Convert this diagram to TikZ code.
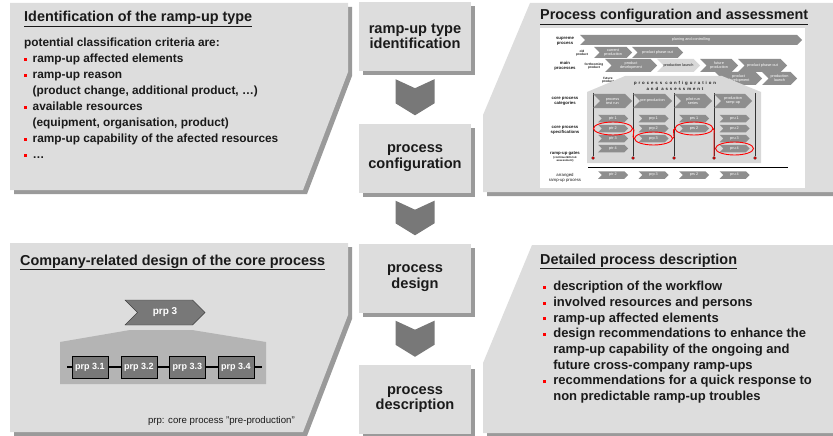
\documentclass[tikz,border=0pt]{standalone}
\usepackage{fontspec}
\setmainfont{Liberation Sans}
\usepackage{xcolor}
\usetikzlibrary{shapes.symbols,shadows,calc}
\definecolor{panelgray}{HTML}{DDDDDD}
\definecolor{shadowgray}{HTML}{9A9A9A}
\definecolor{chevgray}{HTML}{787878}
\definecolor{housegray}{HTML}{B4B4B4}
\definecolor{sketchgray}{HTML}{8E8E8E}
\definecolor{sketchhouse}{HTML}{D8D8D8}
\definecolor{textdark}{HTML}{1A1A1A}
\newcommand{\redsq}[1][8.5pt]{\makebox[#1][l]{\textcolor{red}{\rule[1.8pt]{3pt}{3pt}}}}
\newcommand{\contl}[1][8.5pt]{\hspace*{#1}}

\begin{document}
\begin{tikzpicture}[x=1pt,y=-1pt,
  every node/.style={text=textdark},
  panel/.style={fill=panelgray,drop shadow={shadow xshift=4pt,shadow yshift=-4pt,fill=shadowgray,opacity=1}},
  stepbox/.style={panel,minimum width=112pt,minimum height=69pt,inner sep=0pt,align=center,font=\fontsize{14.6}{15.5}\selectfont\bfseries},
  paneltitle/.style={anchor=base west,inner sep=0pt,font=\fontsize{14.4}{16}\selectfont\bfseries},
  bullets/.style={anchor=north west,inner sep=0pt,align=left,font=\fontsize{11.85}{16}\selectfont\bfseries},
  subbox/.style={draw=black,fill=chevgray,text=white,minimum width=36pt,minimum height=22pt,inner sep=0pt,font=\fontsize{9}{10}\selectfont\bfseries},
  sig/.style={signal,signal to=east,signal from=west,fill=sketchgray,text=white,inner sep=0pt,align=center,font=\fontsize{3.8}{4}\selectfont},
  sketchlbl/.style={align=center,inner sep=0pt,font=\fontsize{4.3}{5}\selectfont\bfseries},
  gate/.style={circle,fill=red,draw=black,line width=0.3pt,inner sep=0pt,minimum size=3pt},
  redring/.style={draw=red,line width=0.9pt}]
  \useasboundingbox (0,0) rectangle (833,436);

  % the four panels
  \path[panel] (10,3) -- (348,3) -- (348,72) -- (303,190) -- (10,190) -- cycle;
  \path[panel] (530,3) -- (840,3) -- (840,192) -- (483,192) -- (483,115) -- cycle;
  \path[panel] (10,243) -- (348,243) -- (348,315) -- (303,432) -- (10,432) -- cycle;
  \path[panel] (532,245) -- (840,245) -- (840,433) -- (483,433) -- (483,363) -- cycle;

  % middle column
  \node[stepbox] (typeid) at (415,36.5) {ramp-up type\\identification};
  \node[stepbox] (config) at (415,158) {process\\configuration};
  \node[stepbox] (design) at (415,278) {process\\design};
  \node[stepbox] (descr) at (415,399.5) {process\\description};
  \fill[chevgray] ($(typeid.south)+(-19.5,8)$) -- ($(typeid.south)+(0,17)$) -- ($(typeid.south)+(19.5,8)$)
    -- ($(config.north)+(19.5,-20)$) -- ($(config.north)+(0,-8)$) -- ($(config.north)+(-19.5,-20)$) -- cycle;
  \fill[chevgray] ($(config.south)+(-19.5,8)$) -- ($(config.south)+(0,17)$) -- ($(config.south)+(19.5,8)$)
    -- ($(design.north)+(19.5,-20)$) -- ($(design.north)+(0,-8)$) -- ($(design.north)+(-19.5,-20)$) -- cycle;
  \fill[chevgray] ($(design.south)+(-19.5,8)$) -- ($(design.south)+(0,17)$) -- ($(design.south)+(19.5,8)$)
    -- ($(descr.north)+(19.5,-20)$) -- ($(descr.north)+(0,-8)$) -- ($(descr.north)+(-19.5,-20)$) -- cycle;

  % top left
  \node[paneltitle] (idtitle) at (24,22) {\underline{Identification of the ramp-up type}};
  \node[bullets] (idlist) at (24,38) {potential classification criteria are:\\
    \redsq ramp-up affected elements\\
    \redsq ramp-up reason\\
    \contl (product change, additional product, \dots)\\
    \redsq available resources\\
    \contl (equipment, organisation, product)\\
    \redsq ramp-up capability of the afected resources\\
    \redsq \dots};

  % top right
  \node[paneltitle] (cftitle) at (540,20) {\underline{Process configuration and assessment}};
  \fill[white] (540,28) rectangle (805,188);
  \node[sketchlbl] (lsup) at (565,41) {supreme\\process};
  \node[sketchlbl] (lmain) at (565,66) {main\\processes};
  \node[sketchlbl,font=\fontsize{3.2}{3.6}\selectfont\bfseries] (lold) at (582,53) {old\\product};
  \node[sketchlbl,font=\fontsize{3.2}{3.6}\selectfont\bfseries] (lforth) at (594,66) {forthcoming\\product};
  \node[sketchlbl,font=\fontsize{3.2}{3.6}\selectfont\bfseries] (lfut) at (608,80) {future\\product};
  \node[sig,minimum width=222pt,minimum height=10pt] (plan) at (691,40) {planing and controlling};
  \node[sig,minimum width=38pt,minimum height=11pt] (curprod) at (613,52.5) {current\\production};
  \node[sig,minimum width=51pt,minimum height=11pt] (phaseout) at (657.5,52.5) {product phase-out};
  \node[sig,minimum width=52pt,minimum height=13pt] (devnow) at (631,65.5) {product\\development};
  \node[sig,minimum width=43pt,minimum height=13pt,fill=sketchhouse,text=textdark] (launchnow) at (678.5,65.5) {production launch};
  \node[sig,minimum width=38pt,minimum height=13pt] (futprod) at (719,65.5) {future\\production};
  \node[sig,minimum width=49pt,minimum height=13pt] (phaseoutb) at (762.5,65.5) {product phase-out};
  \node[sig,minimum width=47pt,minimum height=13pt] (devnext) at (738.5,78.5) {product\\development};
  \node[sig,minimum width=35pt,minimum height=13pt] (launchnext) at (779.5,78.5) {production\\launch};

  \fill[sketchhouse] (587,92) -- (625,76) -- (722,76) -- (761,92) -- (761,163) -- (587,163) -- cycle;
  \node[sketchlbl,font=\fontsize{4.3}{5.6}\selectfont\bfseries\addfontfeature{LetterSpace=45}] (roof) at (675,86) {process configuration\\and assessment};
  \node[sketchlbl] (lcat) at (565,101) {core process\\categories};
  \node[sketchlbl] (lspec) at (565,130) {core process\\specifications};
  \node[sketchlbl] (lgate) at (565,154) {ramp-up gates};
  \node[sketchlbl,font=\fontsize{2.8}{3.1}\selectfont\bfseries] (lgatesub) at (565,159.5) {(continue/kill-risk\\assessment)};
  \node[sketchlbl,font=\fontsize{4.3}{5}\selectfont] (larr) at (565,178) {arranged\\ramp-up process};

  \node[gate] (g1) at (593,158) {};
  \node[gate] (g2) at (633,158) {};
  \node[gate] (g3) at (674,158) {};
  \node[gate] (g4) at (714,158) {};
  \node[gate] (g5) at (755,158) {};
  \draw[black!80,line width=0.6pt] (593,93) -- (g1);
  \draw[black!80,line width=0.6pt] (633,93) -- (g2);
  \draw[black!80,line width=0.6pt] (674,93) -- (g3);
  \draw[black!80,line width=0.6pt] (714,93) -- (g4);
  \draw[black!80,line width=0.6pt] (755,93) -- (g5);

  \node[sig,minimum width=39pt,minimum height=14pt] (cattest) at (612.5,101) {process\\test run};
  \node[sig,minimum width=39pt,minimum height=14pt] (catpre) at (652.5,101) {pre-production};
  \node[sig,minimum width=38pt,minimum height=14pt] (catpilot) at (693,101) {pilot-run\\series};
  \node[sig,minimum width=38pt,minimum height=14pt] (catramp) at (733,101) {production\\ramp-up};

  \node[sig,minimum width=30pt,minimum height=7.5pt] (ptr1) at (613,118.5) {ptr 1};
  \node[sig,minimum width=30pt,minimum height=7.5pt] (ptr2) at (613,128.5) {ptr 2};
  \node[sig,minimum width=30pt,minimum height=7.5pt] (ptr3) at (613,138.5) {ptr 3};
  \node[sig,minimum width=30pt,minimum height=7.5pt] (ptr4) at (613,148.5) {ptr 4};
  \node[sig,minimum width=30pt,minimum height=7.5pt] (prp1) at (653.5,118.5) {prp 1};
  \node[sig,minimum width=30pt,minimum height=7.5pt] (prp2) at (653.5,128.5) {prp 2};
  \node[sig,minimum width=30pt,minimum height=7.5pt] (prp3) at (653.5,138.5) {prp 3};
  \node[sig,minimum width=30pt,minimum height=7.5pt] (prs1) at (694,118.5) {prs 1};
  \node[sig,minimum width=30pt,minimum height=7.5pt] (prs2) at (694,128.5) {prs 2};
  \node[sig,minimum width=30pt,minimum height=7.5pt] (pru1) at (734.5,118.5) {pru 1};
  \node[sig,minimum width=30pt,minimum height=7.5pt] (pru2) at (734.5,128.5) {pru 2};
  \node[sig,minimum width=30pt,minimum height=7.5pt] (pru3) at (734.5,138.5) {pru 3};
  \node[sig,minimum width=30pt,minimum height=7.5pt] (pru4) at (734.5,148.5) {pru 4};

  \draw[redring] (ptr2) ellipse [x radius=19.5pt,y radius=6.5pt];
  \draw[redring] (prp3) ellipse [x radius=19pt,y radius=6.5pt];
  \draw[redring] (prs2) ellipse [x radius=19pt,y radius=6.5pt];
  \draw[redring] (pru4) ellipse [x radius=19pt,y radius=6.5pt];
  \draw[redring] ($(ptr2)+(19.5,0)$) to[out=0,in=180] ($(prp3)+(-19,0)$);
  \draw[redring] ($(prp3)+(19,0)$) to[out=0,in=180] ($(prs2)+(-19,0)$);
  \draw[redring] ($(prs2)+(19,0)$) to[out=0,in=90] ($(prs2)+(20,5)$) -- (g4);

  \draw[black,line width=1pt] (588,167) -- (788,167);
  \node[sig,minimum width=30pt,minimum height=7.5pt] (aptr) at (613,175) {ptr 2};
  \node[sig,minimum width=30pt,minimum height=7.5pt] (aprp) at (653.5,175) {prp 3};
  \node[sig,minimum width=30pt,minimum height=7.5pt] (aprs) at (694,175) {prs 2};
  \node[sig,minimum width=30pt,minimum height=7.5pt] (apru) at (734.5,175) {pru 4};

  % bottom left
  \node[paneltitle] (cotitle) at (20,265) {\underline{Company-related design of the core process}};
  \node[signal,signal to=east,signal from=west,fill=chevgray,draw=black!75,minimum width=80pt,minimum height=25pt,
    inner sep=0pt,text=white,font=\fontsize{10}{11}\selectfont\bfseries] (prpmain) at (165,312.5) {prp 3};
  \fill[housegray] (60,342) -- (130,330) -- (192,330) -- (266,342) -- (266,384) -- (60,384) -- cycle;
  \coordinate (lstart) at (67,367);
  \coordinate (lend) at (262,367);
  \node[subbox] (p31) at (90,367) {prp 3.1};
  \node[subbox] (p32) at (139,367) {prp 3.2};
  \node[subbox] (p33) at (187.5,367) {prp 3.3};
  \node[subbox] (p34) at (236,367) {prp 3.4};
  \draw[black,line width=2pt] (lstart) -- (p31.west);
  \draw[black,line width=2pt] (p31.east) -- (p32.west);
  \draw[black,line width=2pt] (p32.east) -- (p33.west);
  \draw[black,line width=2pt] (p33.east) -- (p34.west);
  \draw[black,line width=2pt] (p34.east) -- (lend);
  \node[anchor=base east,inner sep=0pt,font=\fontsize{9.65}{10}\selectfont] (legend) at (295,423) {prp: core process "pre-production"};

  % bottom right
  \node[paneltitle] (dptitle) at (540,264) {\underline{Detailed process description}};
  \node[bullets,font=\fontsize{13}{15.7}\selectfont\bfseries] (dplist) at (543,281) {\redsq[6.5pt] description of the workflow\\
    \redsq[6.5pt] involved resources and persons\\
    \redsq[6.5pt] ramp-up affected elements\\
    \redsq[6.5pt] design recommendations to enhance the\\
    \contl[6.5pt] ramp-up capability of the ongoing and\\
    \contl[6.5pt] future cross-company ramp-ups\\
    \redsq[6.5pt] recommendations for a quick response to\\
    \contl[6.5pt] non predictable ramp-up troubles};
\end{tikzpicture}
\end{document}
